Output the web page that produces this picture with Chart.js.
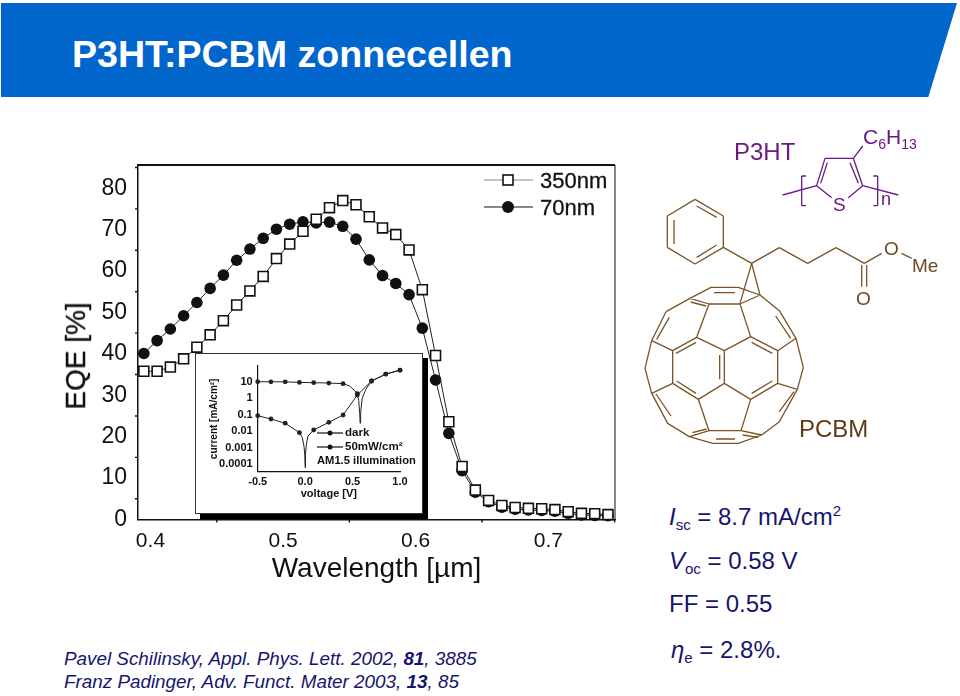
<!DOCTYPE html>
<html>
<head>
<meta charset="utf-8">
<title>P3HT:PCBM zonnecellen</title>
<script src="https://cdn.jsdelivr.net/npm/chart.js@4"></script>
<style>
  html, body { margin: 0; padding: 0; background: #fff; }
  body { position: relative; width: 960px; height: 696px; overflow: hidden; font-family: "Liberation Sans", Arial, sans-serif; }
  .abs { position: absolute; white-space: nowrap; line-height: 1; }
  canvas { position: absolute; }
  #eqe, #inset { filter: blur(0.35px); }
  #banner { position: absolute; left: 1px; top: 3px; width: 956px; height: 94px; background: #0066cc; clip-path: polygon(0 0, 100% 0, 97% 100%, 0 100%); }
  .ref { color: #15156e; font-style: italic; font-size: 18.85px; left: 64px; }
  .param { color: #15156e; font-size: 24px; left: 669px; }
  .param sub { font-size: 15px; vertical-align: -5px; line-height: 0; }
  .param sup { font-size: 15px; vertical-align: 9px; line-height: 0; }
  .purple { color: #6a1b80; }
  .brown { color: #6e4a1e; }
  .scan { color: #111; -webkit-text-stroke: 0.3px #111; }
</style>
</head>
<body>
<div id="banner"></div>
<div class="abs" style="left:72px;top:36px;font-size:37.6px;font-weight:bold;color:#fff">P3HT:PCBM zonnecellen</div>

<canvas id="eqe" style="left:60px;top:155px;width:570px;height:431px" width="570" height="431"></canvas>
<div class="abs scan" style="left:76px;top:356px;font-size:28px;transform:translate(-50%,-50%) rotate(-90deg)">EQE [%]</div>
<div class="abs scan" style="left:540px;top:170px;font-size:22px">350nm</div>
<div class="abs scan" style="left:540px;top:197px;font-size:22px">70nm</div>

<div style="position:absolute;left:200px;top:358px;width:228px;height:161px;background:#000"></div>
<div style="position:absolute;left:195px;top:353px;width:226px;height:159px;background:#fff;border:1px solid #333"></div>
<canvas id="inset" style="left:196px;top:354px;width:226px;height:159px" width="226" height="159"></canvas>
<div class="abs" style="color:#111;left:345px;top:427px;font-size:11.5px;font-weight:bold">dark</div>
<div class="abs" style="color:#111;left:345px;top:441px;font-size:11.5px;font-weight:bold">50mW/cm²</div>
<div class="abs" style="color:#111;left:317px;top:455px;font-size:11.2px;font-weight:bold">AM1.5 illumination</div>

<canvas id="structures" style="left:640px;top:120px;width:310px;height:330px" width="310" height="330"></canvas>
<div class="abs purple" style="left:734px;top:140px;font-size:24px">P3HT</div>
<div class="abs purple" style="left:863px;top:126px;font-size:21px">C<sub style="font-size:14px;vertical-align:-5px;line-height:0">6</sub>H<sub style="font-size:14px;vertical-align:-5px;line-height:0">13</sub></div>
<div class="abs purple" style="left:833px;top:195px;font-size:19px">S</div>
<div class="abs purple" style="left:881px;top:190px;font-size:18px">n</div>
<div class="abs brown" style="left:884px;top:239px;font-size:19px">O</div>
<div class="abs brown" style="left:912px;top:256px;font-size:19px">Me</div>
<div class="abs brown" style="left:856px;top:289px;font-size:19px">O</div>
<div class="abs" style="left:799px;top:417px;font-size:24px;color:#5f3a13">PCBM</div>

<div class="abs param" style="top:505px"><i>I</i><sub>sc</sub> = 8.7 mA/cm<sup>2</sup></div>
<div class="abs param" style="top:549px"><i>V</i><sub>oc</sub> = 0.58 V</div>
<div class="abs param" style="top:592px">FF = 0.55</div>
<div class="abs param" style="top:638px;left:671px"><i>η</i><sub>e</sub> = 2.8%.</div>

<div class="abs ref" style="top:650px">Pavel Schilinsky, Appl. Phys. Lett. 2002, <b>81</b>, 3885</div>
<div class="abs ref" style="top:673px">Franz Padinger, Adv. Funct. Mater 2003, <b>13</b>, 85</div>

<script>
// main EQE figure
const wavelengths = [0.395, 0.405, 0.415, 0.425, 0.435, 0.445, 0.455, 0.465, 0.475, 0.485, 0.495, 0.505,
  0.515, 0.525, 0.535, 0.545, 0.555, 0.565, 0.575, 0.585, 0.595, 0.605, 0.615, 0.625, 0.635, 0.645,
  0.655, 0.665, 0.675, 0.685, 0.695, 0.705, 0.715, 0.725, 0.735, 0.745];
const eqe350 = [35.8, 35.8, 36.8, 38.8, 41.6, 44.6, 48, 51.8, 55.2, 58.7, 63, 66.5,
  69.6, 72.5, 75.3, 77, 76, 73.1, 70.4, 68.8, 65.1, 55.5, 39.6, 23.6, 12.8, 7.1,
  4.6, 3.4, 2.9, 2.7, 2.6, 2.4, 1.9, 1.5, 1.4, 1.2];
const eqe70 = [40.1, 43.2, 46, 49.2, 52.4, 55.8, 59, 62.6, 65.3, 67.9, 70.1, 71.3,
  71.9, 71.6, 71.8, 70.8, 67.7, 62.7, 58.9, 57, 54.3, 46.2, 33.7, 20.8, 11.8, 6.6,
  4.3, 3, 2.5, 2.3, 2.2, 2, 1.5, 1.1, 1, 0.9];
const xTicks = [0.4, 0.5, 0.6, 0.7];
const xMinorTicks = [0.45, 0.55, 0.65, 0.75];
const yTicks = [0, 10, 20, 30, 40, 50, 60, 70, 80];
const yMinorTicks = [5, 15, 25, 35, 45, 55, 65, 75, 85];

// inset J-V figure
const voltMarks = [-0.5, -0.36, -0.21, -0.06, 0.09, 0.25, 0.4, 0.55, 0.7, 0.85, 1.0];
const darkMarks = [0.086, 0.054, 0.03, 0.008, 0.0116, 0.034, 0.095, 1.55, 11, 29, 50];
const lightMarks = [10, 9.9, 9.8, 9.1, 8.7, 8.3, 7.6, 1.9, 11, 29, 50];
const darkCurveV = [-0.5, -0.36, -0.21, -0.06, -0.03, -0.012, -0.004, 0, 0.004, 0.012, 0.03, 0.09, 0.25, 0.4, 0.55, 0.7, 0.85, 1.0];
const darkCurveI = [0.086, 0.054, 0.03, 0.008, 0.004, 0.0012, 0.0004, 0.00006, 0.0004, 0.0014, 0.005, 0.0116, 0.034, 0.095, 1.55, 11, 29, 50];
const lightCurveV = [-0.5, -0.36, -0.21, -0.06, 0.09, 0.25, 0.4, 0.47, 0.52, 0.55, 0.565, 0.575, 0.58, 0.585, 0.6, 0.64, 0.7, 0.85, 1.0];
const lightCurveI = [10, 9.9, 9.8, 9.1, 8.7, 8.3, 7.6, 5.4, 3, 1.9, 0.7, 0.12, 0.03, 0.12, 0.9, 3.5, 11, 29, 50];
const insetVTicks = [-0.5, 0, 0.5, 1];
const insetITicks = [0.0001, 0.001, 0.01, 0.1, 1, 10];
const insetILabels = ['0.0001', '0.001', '0.01', '0.1', '1', '10'];

// bond drawings, crop units (3 per page pixel)
const c60Nodes = {
  A: [213, 22], B: [295, 22], C: [150, 55], D: [360, 45], E: [207, 72], F: [300, 72],
  G: [78, 95], H: [418, 92], I: [170, 172], J: [332, 170], K: [35, 182], L: [468, 175],
  M: [98, 212], N: [253, 212], O: [413, 212], P: [15, 265], Q: [490, 262],
  R: [98, 310], S: [253, 310], T: [413, 310], U: [35, 340], V: [472, 328],
  W: [175, 358], X: [332, 358], Y: [83, 430], Z: [418, 425],
  a: [207, 452], b: [303, 452], c: [148, 470], d: [365, 465], e: [218, 490], f: [295, 490],
};
const c60Edges = ['AB', 'AC', 'BD', 'CE', 'DF', 'EF', 'CG', 'DH', 'GK', 'HL', 'EI', 'FJ', 'IN', 'JN', 'IM', 'JO',
  'KM', 'LO', 'KP', 'LQ', 'MR', 'OT', 'NS', 'PU', 'QV', 'RU', 'TV', 'RW', 'TX', 'SW', 'SX', 'UY', 'VZ',
  'Wa', 'Xb', 'Yc', 'Zd', 'ab', 'ac', 'bd', 'ce', 'df', 'ef'];
const c60Inner = [[222, 38, 285, 38], [152, 66, 198, 78], [88, 112, 50, 178], [407, 108, 452, 175],
  [168, 187, 108, 220], [335, 187, 397, 220], [239, 225, 239, 298], [110, 303, 168, 340], [397, 303, 335, 340],
  [48, 342, 93, 408], [462, 335, 418, 395], [157, 458, 200, 447], [308, 465, 355, 472], [228, 477, 285, 477]];
const pcbmTop = [[135, 238, 220, 288], [220, 288, 220, 382], [220, 382, 135, 432], [135, 432, 52, 382], [52, 382, 52, 288], [52, 288, 135, 238],
  [140, 258, 200, 292], [72, 300, 72, 372], [140, 412, 200, 375], [220, 382, 305, 430],
  [305, 430, 388, 383], [388, 383, 473, 430], [473, 430, 558, 383], [558, 383, 643, 430], [643, 430, 695, 400],
  [755, 400, 785, 415], [635, 435, 635, 500], [650, 435, 650, 500], [305, 430, 330, 525], [305, 430, 270, 550]];
const p3htBonds = [[610, 115, 638, 78], [525, 115, 610, 115], [525, 115, 500, 197], [610, 115, 638, 197], [500, 197, 545, 233], [638, 197, 595, 233],
  [532, 128, 512, 190], [600, 128, 625, 190], [500, 197, 398, 225], [638, 197, 745, 225],
  [468, 168, 455, 168], [455, 168, 455, 257], [455, 257, 468, 257], [670, 168, 683, 168], [683, 168, 683, 257], [683, 257, 670, 257]];

Chart.defaults.font.family = '"Liberation Sans", Arial, sans-serif';
Chart.defaults.animation = false;

// pins the axis box and drops the label overhang, so the plot area lands where the figure has it
function pinAxis(prop, size) {
  return (s) => { s[prop] = size; s.paddingTop = s.paddingBottom = s.paddingLeft = s.paddingRight = 0; };
}

function tickMarks(ctx, scale, values, len, vertical) {
  ctx.beginPath();
  values.forEach(v => {
    const p = scale.getPixelForValue(v);
    if (vertical) { ctx.moveTo(scale.right, p); ctx.lineTo(scale.right - len, p); }
    else { ctx.moveTo(p, scale.top); ctx.lineTo(p, scale.top + len); }
  });
  ctx.stroke();
}

const eqeDecor = {
  id: 'eqeDecor',
  afterDraw(chart) {
    const { ctx, chartArea: a, scales } = chart;
    ctx.save();
    ctx.strokeStyle = '#111';
    ctx.lineWidth = 1.4;
    tickMarks(ctx, scales.x, xMinorTicks, 3, false);
    tickMarks(ctx, scales.y, yMinorTicks, 3, true);
    // top and right of the frame
    ctx.lineWidth = 2; ctx.beginPath(); ctx.moveTo(a.left, a.top); ctx.lineTo(a.right, a.top); ctx.stroke();
    ctx.lineWidth = 1; ctx.beginPath(); ctx.moveTo(a.right, a.top); ctx.lineTo(a.right, a.bottom); ctx.stroke();
    // legend keys
    const x0 = 424, x1 = 473, mid = 448;
    [25, 52].forEach((y, i) => {
      ctx.strokeStyle = i ? '#111' : '#888';
      ctx.lineWidth = 1;
      ctx.beginPath(); ctx.moveTo(x0, y); ctx.lineTo(x1, y); ctx.stroke();
      ctx.strokeStyle = '#111';
      if (i) {
        ctx.fillStyle = '#111';
        ctx.beginPath(); ctx.arc(mid, y, 6, 0, Math.PI * 2); ctx.fill();
      } else {
        ctx.fillStyle = '#fff'; ctx.lineWidth = 1.6;
        ctx.fillRect(mid - 5, y - 5, 10, 10); ctx.strokeRect(mid - 5, y - 5, 10, 10);
      }
    });
    ctx.restore();
  },
};

const insetKeys = {
  id: 'insetKeys',
  afterDraw(chart) {
    const ctx = chart.ctx;
    ctx.save();
    ctx.strokeStyle = ctx.fillStyle = '#111';
    ctx.lineWidth = 1.2;
    [79, 93].forEach(y => {
      ctx.beginPath(); ctx.moveTo(121, y); ctx.lineTo(147, y); ctx.stroke();
      ctx.beginPath(); ctx.arc(134, y, 2.5, 0, Math.PI * 2); ctx.fill();
    });
    ctx.restore();
  },
};

new Chart(document.getElementById('eqe'), {
  type: 'scatter',
  data: {
    datasets: [
      {
        label: '350nm', data: wavelengths.map((x, i) => ({ x, y: eqe350[i] })), showLine: true, order: 1, clip: false,
        borderColor: '#222', borderWidth: 1, pointStyle: 'rect', pointRadius: 7, pointBackgroundColor: '#fff', pointBorderColor: '#111', pointBorderWidth: 1.6,
      },
      {
        label: '70nm', data: wavelengths.map((x, i) => ({ x, y: eqe70[i] })), showLine: true, order: 2, clip: false,
        borderColor: '#222', borderWidth: 1, pointRadius: 5.8, pointBackgroundColor: '#111', pointBorderColor: '#111', pointBorderWidth: 0,
      },
    ],
  },
  options: {
    responsive: false,
    layout: { padding: { top: 10, right: 15, left: 0, bottom: 0 } },
    plugins: { legend: { display: false }, tooltip: { enabled: false } },
    scales: {
      x: {
        type: 'linear', min: 0.3906, max: 0.7503,
        afterBuildTicks: (s) => { s.ticks = xTicks.map(value => ({ value })); },
        afterFit: pinAxis('height', 66.5),
        grid: { display: false, drawOnChartArea: false, drawTicks: true, tickLength: 6, tickColor: '#111', tickWidth: 1.4 },
        border: { color: '#111', width: 1.5 },
        ticks: { color: '#111', font: { size: 21 }, padding: 3, maxRotation: 0, autoSkip: false, callback: (v) => v.toFixed(1) },
        title: { display: true, text: 'Wavelength [µm]', color: '#111', font: { size: 28 }, padding: 0 },
      },
      y: {
        type: 'linear', min: 0, max: 85.6,
        afterBuildTicks: (s) => { s.ticks = yTicks.map(value => ({ value })); },
        afterFit: pinAxis('width', 78),
        grid: { display: false, drawOnChartArea: false, drawTicks: true, tickLength: 6, tickColor: '#111', tickWidth: 1.4 },
        border: { color: '#111', width: 1.5 },
        ticks: { color: '#111', font: { size: 23 }, padding: 5, autoSkip: false },
      },
    },
  },
  plugins: [eqeDecor],
});

new Chart(document.getElementById('inset'), {
  type: 'scatter',
  data: {
    datasets: [
      { label: 'dark', data: darkCurveV.map((x, i) => ({ x, y: darkCurveI[i] })), showLine: true, borderColor: '#222', borderWidth: 1, pointRadius: 0, clip: false },
      { label: '50mW/cm²', data: lightCurveV.map((x, i) => ({ x, y: lightCurveI[i] })), showLine: true, borderColor: '#222', borderWidth: 1, pointRadius: 0, clip: false },
      { label: 'dark points', data: voltMarks.map((x, i) => ({ x, y: darkMarks[i] })), pointRadius: 2.4, pointBackgroundColor: '#222', pointBorderWidth: 0, clip: false },
      { label: 'illuminated points', data: voltMarks.map((x, i) => ({ x, y: lightMarks[i] })), pointRadius: 2.4, pointBackgroundColor: '#222', pointBorderWidth: 0, clip: false },
    ],
  },
  options: {
    responsive: false,
    layout: { padding: { top: 12, right: 22, left: 0, bottom: 0 } },
    plugins: { legend: { display: false }, tooltip: { enabled: false } },
    scales: {
      x: {
        type: 'linear', min: -0.5, max: 1,
        afterBuildTicks: (s) => { s.ticks = insetVTicks.map(value => ({ value })); },
        afterFit: pinAxis('height', 41.3),
        grid: { display: false, drawOnChartArea: false, drawTicks: true, tickLength: 3, tickColor: '#111' },
        border: { color: '#111', width: 1.2 },
        ticks: { color: '#111', font: { size: 11, weight: 'bold' }, padding: 1, maxRotation: 0, autoSkip: false, callback: (v) => v.toFixed(1) },
        title: { display: true, text: 'voltage [V]', color: '#111', font: { size: 11, weight: 'bold' }, padding: { top: 0, bottom: 12 } },
      },
      y: {
        type: 'logarithmic', min: 0.000034, max: 90,
        afterBuildTicks: (s) => { s.ticks = insetITicks.map(value => ({ value })); },
        afterFit: pinAxis('width', 61.7),
        grid: { display: false, drawOnChartArea: false, drawTicks: true, tickLength: 3, tickColor: '#111' },
        border: { color: '#111', width: 1.2 },
        ticks: {
          color: '#111', font: { size: 11, weight: 'bold' }, padding: 2, autoSkip: false,
          callback: (v) => insetILabels[insetITicks.indexOf(v)] || '',
        },
        title: { display: true, text: 'current [mA/cm²]', color: '#111', font: { size: 10, weight: 'bold' }, padding: { top: 12, bottom: 0 } },
      },
    },
  },
  plugins: [insetKeys],
});

// turn crop-unit segments into page-pixel points with gaps between the bonds
function bondPoints(segments, originX, originY) {
  const pts = [];
  segments.forEach(([x1, y1, x2, y2]) => {
    pts.push({ x: originX + x1 / 3, y: originY + y1 / 3 }, { x: originX + x2 / 3, y: originY + y2 / 3 }, { x: originX + x2 / 3, y: null });
  });
  return pts;
}
const c60Segments = c60Edges.map(e => [...c60Nodes[e[0]], ...c60Nodes[e[1]]]).concat(c60Inner);

const bondLine = { showLine: true, spanGaps: false, pointRadius: 0, borderWidth: 1.3, clip: false };
new Chart(document.getElementById('structures'), {
  type: 'scatter',
  data: {
    datasets: [
      { ...bondLine, label: 'PCBM C60', data: bondPoints(c60Segments, 640, 280), borderColor: '#7a5426' },
      { ...bondLine, label: 'PCBM side chain', data: bondPoints(pcbmTop, 650, 120), borderColor: '#7a5426' },
      { ...bondLine, label: 'P3HT', data: bondPoints(p3htBonds, 650, 120), borderColor: '#6a1b80' },
    ],
  },
  options: {
    responsive: false,
    layout: { padding: 0 },
    plugins: { legend: { display: false }, tooltip: { enabled: false } },
    scales: {
      x: { type: 'linear', display: false, min: 640, max: 950 },
      y: { type: 'linear', display: false, min: 120, max: 450, reverse: true },
    },
  },
});
</script>
</body>
</html>
